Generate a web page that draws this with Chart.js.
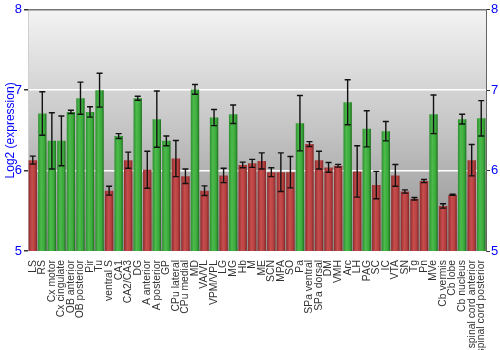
<!DOCTYPE html>
<html>
<head>
<meta charset="utf-8">
<script src="https://cdn.jsdelivr.net/npm/chart.js@4/dist/chart.umd.min.js"></script>
<style>
  html, body { margin: 0; padding: 0; background: #fff; }
  #wrap { width: 500px; height: 350px; }
</style>
</head>
<body>
<div id="wrap"><canvas id="chart" width="500" height="350"></canvas></div>
<script>
// brain regions along the x axis
var regions = ["LS","RS","Cx motor","Cx cingulate","OB anterior","OB posterior","Pir","Tu",
  "ventral S","CA1","CA2/CA3","DG","A anterior","A posterior","GP","CPu lateral","CPu medial",
  "MD","VA/VL","VPM/VPL","LG","MG","Hb","M","ME","SCN","MPA","SO","Pa","SPa ventral",
  "SPa dorsal","DM","VMH","Arc","LH","PAG","SC","IC","VTA","SN","Tg","Pn","MVe",
  "Cb vermis","Cb lobe","Cb nucleus","spinal cord anterior","spinal cord posterior"];

// mean log2 expression per region
var expression = [6.13,6.71,6.37,6.37,6.73,6.90,6.73,7.00,
  5.75,6.43,6.13,6.90,6.01,6.64,6.37,6.15,5.93,
  7.01,5.75,6.66,5.94,6.70,6.07,6.09,6.12,5.98,5.98,5.98,6.59,6.33,
  6.13,6.04,6.06,6.85,5.99,6.52,5.82,6.49,5.94,5.74,5.65,5.87,6.70,
  5.56,5.70,6.64,6.13,6.65];

// standard error per region
var stdErr = [0.05,0.27,0.35,0.31,0.02,0.20,0.065,0.21,
  0.055,0.03,0.10,0.025,0.23,0.35,0.06,0.225,0.09,
  0.06,0.06,0.10,0.09,0.115,0.035,0.05,0.10,0.055,0.24,0.195,0.345,0.03,
  0.11,0.06,0.017,0.28,0.32,0.225,0.17,0.12,0.135,0.02,0.015,0.02,0.24,
  0.027,0.008,0.06,0.195,0.22];

// 1 = high (green), 0 = low (red)
var high = [0,1,1,1,1,1,1,1,
  0,1,0,1,0,1,1,0,0,
  1,0,1,0,1,0,0,0,0,0,0,1,0,
  0,0,0,1,0,1,0,1,0,0,0,0,1,
  0,0,1,0,1];

var yTicks = [5, 6, 7, 8];

var BAR_PCT = 0.88;
var FONT = 'Liberation Sans, Arial, sans-serif';

function barFill(ctx) {
  var chart = ctx.chart;
  var xs = chart.scales.x;
  var area = chart.chartArea;
  if (!xs || !area) return high[ctx.dataIndex] ? '#3aa63a' : '#b03c3c';
  var cx = xs.getPixelForValue(ctx.dataIndex);
  var w = (area.right - area.left) / regions.length * BAR_PCT;
  var g = chart.ctx.createLinearGradient(cx - w / 2, 0, cx + w / 2, 0);
  if (high[ctx.dataIndex]) {
    g.addColorStop(0, '#2f8f2f');
    g.addColorStop(0.35, '#4cbb4c');
    g.addColorStop(0.75, '#3aa83a');
    g.addColorStop(1, '#1d6d1d');
  } else {
    g.addColorStop(0, '#8f2b2b');
    g.addColorStop(0.4, '#c84e4e');
    g.addColorStop(0.75, '#b54040');
    g.addColorStop(1, '#822424');
  }
  return g;
}

// grey gradient behind the plot + top border line
var backdrop = {
  id: 'backdrop',
  beforeDraw: function(chart) {
    var a = chart.chartArea, c = chart.ctx;
    var g = c.createLinearGradient(0, a.top, 0, a.bottom);
    g.addColorStop(0, '#f3f3f3');
    g.addColorStop(0.5, '#c4c4c4');
    g.addColorStop(1, '#8e8e8e');
    c.save();
    c.fillStyle = g;
    c.fillRect(a.left, a.top, a.right - a.left, a.bottom - a.top);
    c.restore();
  },
  afterDraw: function(chart) {
    var a = chart.chartArea, c = chart.ctx;
    c.save();
    c.strokeStyle = '#777';
    c.lineWidth = 1.5;
    c.beginPath();
    c.moveTo(a.left, a.top);
    c.lineTo(a.right, a.top);
    c.stroke();
    c.restore();
  }
};

// error bars drawn from stdErr
var errorBars = {
  id: 'errorBars',
  afterDatasetsDraw: function(chart) {
    var meta = chart.getDatasetMeta(0);
    var ys = chart.scales.y, c = chart.ctx;
    c.save();
    c.strokeStyle = '#111';
    c.lineWidth = 1.4;
    meta.data.forEach(function(bar, i) {
      var x = bar.x;
      var top = ys.getPixelForValue(expression[i] + stdErr[i]);
      var bot = ys.getPixelForValue(expression[i] - stdErr[i]);
      c.beginPath();
      c.moveTo(x, top); c.lineTo(x, bot);
      c.moveTo(x - 3, top); c.lineTo(x + 3, top);
      c.moveTo(x - 3, bot); c.lineTo(x + 3, bot);
      c.stroke();
    });
    c.restore();
  }
};

function gridColor(ctx) {
  var v = ctx.tick && ctx.tick.value;
  return (v === 6 || v === 7) ? '#ffffff' : 'rgba(0,0,0,0)';
}

new Chart(document.getElementById('chart'), {
  type: 'bar',
  data: {
    labels: regions,
    datasets: [{
      data: expression,
      backgroundColor: barFill,
      borderWidth: 0,
      barPercentage: BAR_PCT,
      categoryPercentage: 1.0
    }]
  },
  options: {
    responsive: false,
    animation: false,
    layout: { padding: { top: 9, left: 0, right: 0, bottom: 0 } },
    plugins: { legend: { display: false }, tooltip: { enabled: false } },
    scales: {
      x: {
        grid: { display: false },
        border: { display: false },
        ticks: {
          autoSkip: false,
          maxRotation: 90,
          minRotation: 90,
          padding: 1,
          color: '#333',
          font: { family: FONT, size: 10.4 }
        },
        afterFit: function(s) { s.height = 99; }
      },
      y: {
        min: 5, max: 8,
        afterBuildTicks: function(s) { s.ticks = yTicks.map(function(v) { return { value: v }; }); },
        grid: { color: gridColor, lineWidth: 1.5, tickColor: '#333', tickLength: 4 },
        border: { color: '#d0d0d0' },
        ticks: {
          color: '#0000ff', padding: 2,
          font: { family: FONT, size: 13 }
        },
        title: {
          display: true, text: 'Log2 (expression)', color: '#0000ff',
          padding: { top: 3, bottom: 0 },
          font: { family: FONT, size: 12 }
        },
        afterFit: function(s) { s.width = 28; }
      },
      y2: {
        position: 'right',
        min: 5, max: 8,
        afterBuildTicks: function(s) { s.ticks = yTicks.map(function(v) { return { value: v }; }); },
        grid: { drawOnChartArea: false, tickColor: '#333', tickLength: 4 },
        border: { color: '#666' },
        ticks: {
          color: '#0000ff', padding: 1,
          font: { family: FONT, size: 13 }
        },
        afterFit: function(s) { s.width = 14; }
      }
    }
  },
  plugins: [backdrop, errorBars]
});
</script>
</body>
</html>
